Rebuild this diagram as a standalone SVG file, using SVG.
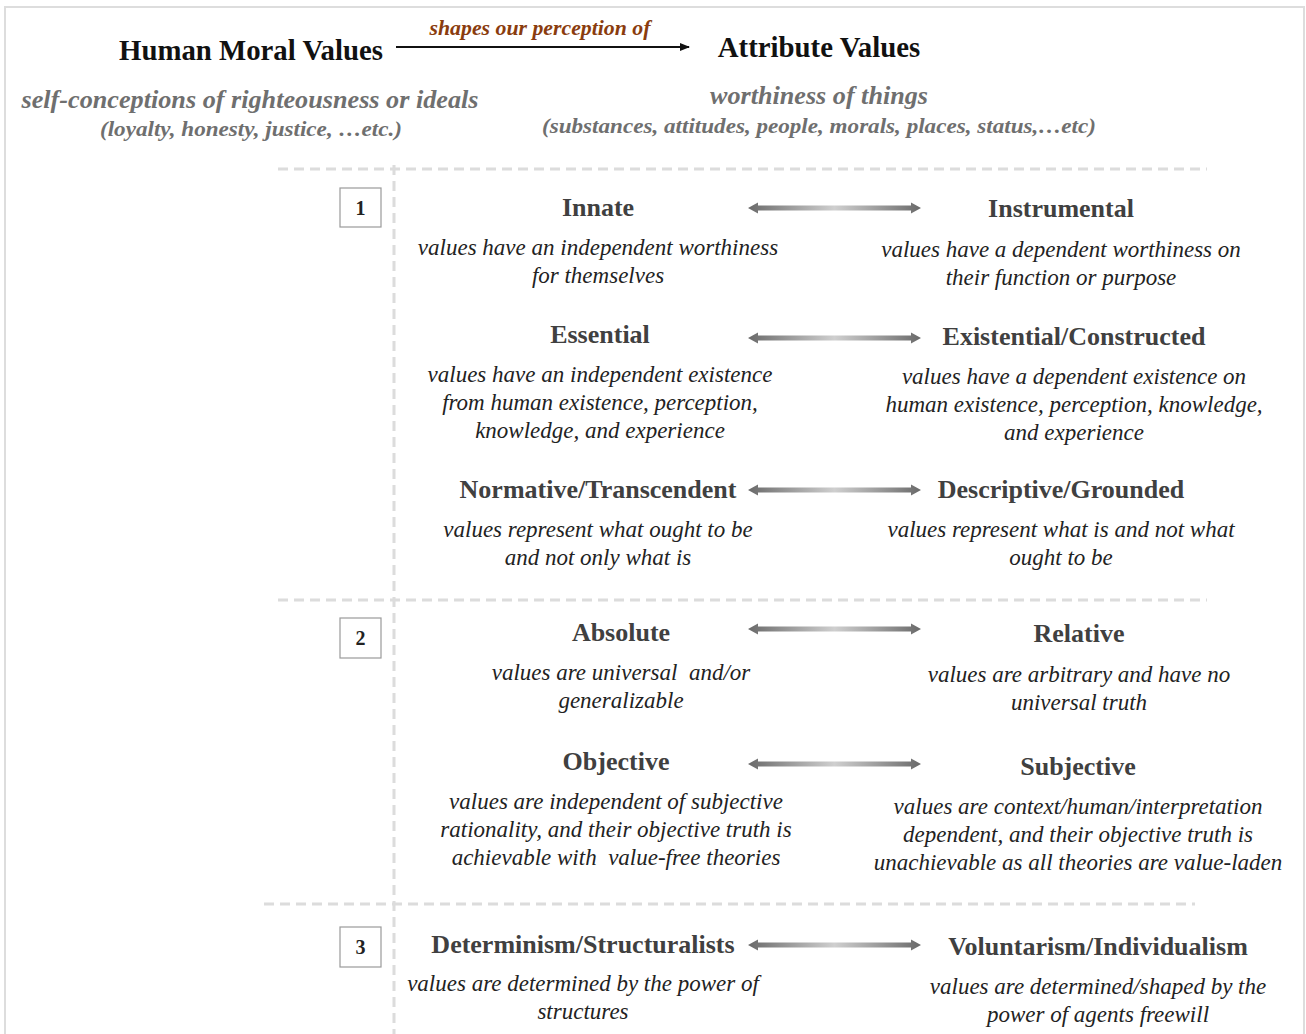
<svg xmlns="http://www.w3.org/2000/svg" width="1306" height="1034" viewBox="0 0 1306 1034">
  <defs>
    <linearGradient id="barGrad" x1="0" y1="0" x2="1" y2="0">
      <stop offset="0" stop-color="#6a6a6a"/>
      <stop offset="0.5" stop-color="#cfcfcf"/>
      <stop offset="1" stop-color="#6a6a6a"/>
    </linearGradient>
    <marker id="head" viewBox="0 0 10 10" refX="9" refY="5" markerWidth="5" markerHeight="5" orient="auto" markerUnits="strokeWidth">
      <path d="M0,1 L10,5 L0,9 Z" fill="#111"/>
    </marker>
    <!-- double-headed bar, drawn once and reused for each pair -->
    <path id="dbl" d="M0,0 L10,-5.5 L10,-2.6 L163,-2.6 L163,-5.5 L173,0 L163,5.5 L163,2.6 L10,2.6 L10,5.5 Z"/>
  </defs>
  <style>
    .title { font-family: "Liberation Serif", "Times New Roman", serif; font-weight: bold; font-size: 28.8px; fill: #111; text-anchor: middle; }
    .sub { font-family: "Liberation Serif", "Times New Roman", serif; font-weight: bold; font-style: italic; fill: #6f6f6f; text-anchor: middle; }
    .verb { font-family: "Liberation Serif", "Times New Roman", serif; font-weight: bold; font-style: italic; font-size: 20px; fill: #8a3c0e; text-anchor: middle; }
    .head { font-family: "Liberation Serif", "Times New Roman", serif; font-weight: bold; font-size: 26px; fill: #404040; text-anchor: middle; }
    .desc { font-family: "Liberation Serif", "Times New Roman", serif; font-style: italic; font-size: 23px; fill: #222; text-anchor: middle; }
    .num { font-family: "Liberation Serif", "Times New Roman", serif; font-weight: bold; font-size: 20px; fill: #222; text-anchor: middle; }
    .box { fill: #fff; stroke: #9a9a9a; stroke-width: 1.2; }
    .grid { stroke: #dcdcdc; stroke-width: 3; stroke-dasharray: 10 6; fill: none; }
    .bar { fill: url(#barGrad); }
  </style>

  <rect x="0" y="0" width="1306" height="1034" fill="#fff"/>
  <!-- outer frame -->
  <rect x="5" y="7" width="1299" height="1100" fill="none" stroke="#dddddd" stroke-width="2"/>

  <!-- section grid -->
  <g id="grid">
    <line class="grid" x1="278" y1="169" x2="1207" y2="169"/>
    <line class="grid" x1="278" y1="600" x2="1207" y2="600"/>
    <line class="grid" x1="264" y1="904" x2="1195" y2="904"/>
    <line class="grid" x1="394" y1="165" x2="394" y2="1034"/>
  </g>

  <!-- header -->
  <g id="human-moral-values">
    <text class="title" x="251" y="60">Human Moral Values</text>
    <text class="sub" x="250" y="108" font-size="25" textLength="457" lengthAdjust="spacingAndGlyphs">self-conceptions of righteousness or ideals</text>
    <text class="sub" x="251" y="136" font-size="20" textLength="302" lengthAdjust="spacingAndGlyphs">(loyalty, honesty, justice, …etc.)</text>
  </g>
  <g id="attribute-values">
    <text class="title" x="819" y="57">Attribute Values</text>
    <text class="sub" x="819" y="104" font-size="25" textLength="218" lengthAdjust="spacingAndGlyphs">worthiness of things</text>
    <text class="sub" x="819" y="133" font-size="20" textLength="554" lengthAdjust="spacingAndGlyphs">(substances, attitudes, people, morals, places, status,…etc)</text>
  </g>

  <!-- section numbers -->
  <g id="section-1"><rect class="box" x="340" y="188" width="41" height="39"/><text class="num" x="360.5" y="215">1</text></g>
  <g id="section-2"><rect class="box" x="340" y="618" width="41" height="40"/><text class="num" x="360.5" y="645">2</text></g>
  <g id="section-3"><rect class="box" x="340" y="927" width="41" height="40"/><text class="num" x="360.5" y="954">3</text></g>

  <!-- left-hand poles -->
  <g id="innate">
    <text class="head" x="598" y="216">Innate</text>
    <text class="desc" x="598" y="255">values have an independent worthiness</text>
    <text class="desc" x="598" y="283">for themselves</text>
  </g>
  <g id="essential">
    <text class="head" x="600" y="343">Essential</text>
    <text class="desc" x="600" y="382">values have an independent existence</text>
    <text class="desc" x="600" y="410">from human existence, perception,</text>
    <text class="desc" x="600" y="438">knowledge, and experience</text>
  </g>
  <g id="normative">
    <text class="head" x="598" y="498">Normative/Transcendent</text>
    <text class="desc" x="598" y="537">values represent what ought to be</text>
    <text class="desc" x="598" y="565">and not only what is</text>
  </g>
  <g id="absolute">
    <text class="head" x="621" y="641">Absolute</text>
    <text class="desc" x="621" y="680" xml:space="preserve">values are universal  and/or</text>
    <text class="desc" x="621" y="708">generalizable</text>
  </g>
  <g id="objective">
    <text class="head" x="616" y="770">Objective</text>
    <text class="desc" x="616" y="809">values are independent of subjective</text>
    <text class="desc" x="616" y="837">rationality, and their objective truth is</text>
    <text class="desc" x="616" y="865" xml:space="preserve">achievable with  value-free theories</text>
  </g>
  <g id="determinism">
    <text class="head" x="583" y="953">Determinism/Structuralists</text>
    <text class="desc" x="583" y="991">values are determined by the power of</text>
    <text class="desc" x="583" y="1019">structures</text>
  </g>

  <!-- right-hand poles -->
  <g id="instrumental">
    <text class="head" x="1061" y="217">Instrumental</text>
    <text class="desc" x="1061" y="257">values have a dependent worthiness on</text>
    <text class="desc" x="1061" y="285">their function or purpose</text>
  </g>
  <g id="existential">
    <text class="head" x="1074" y="345">Existential/Constructed</text>
    <text class="desc" x="1074" y="384">values have a dependent existence on</text>
    <text class="desc" x="1074" y="412">human existence, perception, knowledge,</text>
    <text class="desc" x="1074" y="440">and experience</text>
  </g>
  <g id="descriptive">
    <text class="head" x="1061" y="498">Descriptive/Grounded</text>
    <text class="desc" x="1061" y="537">values represent what is and not what</text>
    <text class="desc" x="1061" y="565">ought to be</text>
  </g>
  <g id="relative">
    <text class="head" x="1079" y="642">Relative</text>
    <text class="desc" x="1079" y="682">values are arbitrary and have no</text>
    <text class="desc" x="1079" y="710">universal truth</text>
  </g>
  <g id="subjective">
    <text class="head" x="1078" y="775">Subjective</text>
    <text class="desc" x="1078" y="814">values are context/human/interpretation</text>
    <text class="desc" x="1078" y="842">dependent, and their objective truth is</text>
    <text class="desc" x="1078" y="870">unachievable as all theories are value-laden</text>
  </g>
  <g id="voluntarism">
    <text class="head" x="1098" y="955">Voluntarism/Individualism</text>
    <text class="desc" x="1098" y="994">values are determined/shaped by the</text>
    <text class="desc" x="1098" y="1022">power of agents freewill</text>
  </g>

  <!-- connectors -->
  <g id="connectors">
    <line x1="396" y1="47" x2="689" y2="47" stroke="#111" stroke-width="2" marker-end="url(#head)"/>
    <text class="verb" x="540" y="35" textLength="221" lengthAdjust="spacingAndGlyphs">shapes our perception of</text>
    <use href="#dbl" class="bar" x="748" y="208"/>
    <use href="#dbl" class="bar" x="748" y="338"/>
    <use href="#dbl" class="bar" x="748" y="490"/>
    <use href="#dbl" class="bar" x="748" y="629"/>
    <use href="#dbl" class="bar" x="748" y="764"/>
    <use href="#dbl" class="bar" x="748" y="945"/>
  </g>
</svg>
